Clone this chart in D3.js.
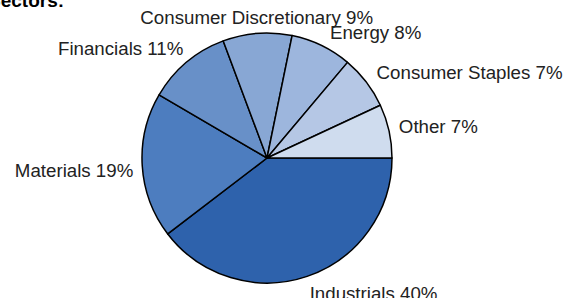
<!DOCTYPE html>
<html>
<head>
<meta charset="utf-8">
<script src="https://cdn.jsdelivr.net/npm/d3@7"></script>
<style>
  body { margin: 0; background: #fff; }
  text { font-family: "Liberation Sans", Arial, sans-serif; }
</style>
</head>
<body>
<div id="chart"></div>
<script>
var sectors = ["Industrials", "Materials", "Financials", "Consumer Discretionary", "Energy", "Consumer Staples", "Other"];
var weights = [40, 19, 11, 9, 8, 7, 7];
var sliceColors = ["#2E62AC", "#4D7DBF", "#6890C8", "#88A7D4", "#9DB6DD", "#B5C7E5", "#CFDCEE"];
// small label shifts, excel puts them a bit off the plain rule
var labelNudge = [[0, 3], [-1, 4], [2, -3], [0, -1], [5, 0], [4, -1], [2, -2]];

var w = 566, h = 298;
var cx = 267, cy = 158, r = 125;

var svg = d3.select("#chart").append("svg")
    .attr("width", w)
    .attr("height", h);

// title, cut off at top-left like the source
svg.append("text")
    .attr("x", -12)
    .attr("y", 7)
    .attr("font-size", 19)
    .attr("font-weight", "bold")
    .attr("fill", "#000")
    .text("Sectors:");

var data = sectors.map(function(s, i) { return {name: s, value: weights[i], nudge: labelNudge[i]}; });

var color = d3.scaleOrdinal().domain(sectors).range(sliceColors);

var pie = d3.pie()
    .sort(null)
    .value(function(d) { return d.value; })
    .startAngle(Math.PI / 2)
    .endAngle(Math.PI / 2 + 2 * Math.PI);

var arc = d3.arc().innerRadius(0).outerRadius(r);
var labelArc = d3.arc().innerRadius(r + 8).outerRadius(r + 8);

var g = svg.append("g").attr("transform", "translate(" + cx + "," + cy + ")");

var arcs = pie(data);

g.selectAll("path.slice")
    .data(arcs)
    .enter()
    .append("path")
    .attr("class", "slice")
    .attr("d", arc)
    .attr("fill", function(d) { return color(d.data.name); })
    .attr("stroke", "#000")
    .attr("stroke-width", 1.5)
    .attr("stroke-linejoin", "round");

g.selectAll("text.label")
    .data(arcs)
    .enter()
    .append("text")
    .attr("class", "label")
    .attr("font-size", 18.7)
    .attr("fill", "#222")
    .each(function(d) {
        var a = (d.startAngle + d.endAngle) / 2;
        var p = labelArc.centroid(d);
        var sx = Math.sin(a), sy = -Math.cos(a);
        var anchor = sx > 0.2 ? "start" : (sx < -0.2 ? "end" : "middle");
        d3.select(this)
            .attr("x", p[0] + d.data.nudge[0])
            .attr("y", p[1] + 6.7 + 6.7 * sy + d.data.nudge[1])
            .attr("text-anchor", anchor);
    })
    .text(function(d) { return d.data.name + " " + d.data.value + "%"; });
</script>
</body>
</html>
